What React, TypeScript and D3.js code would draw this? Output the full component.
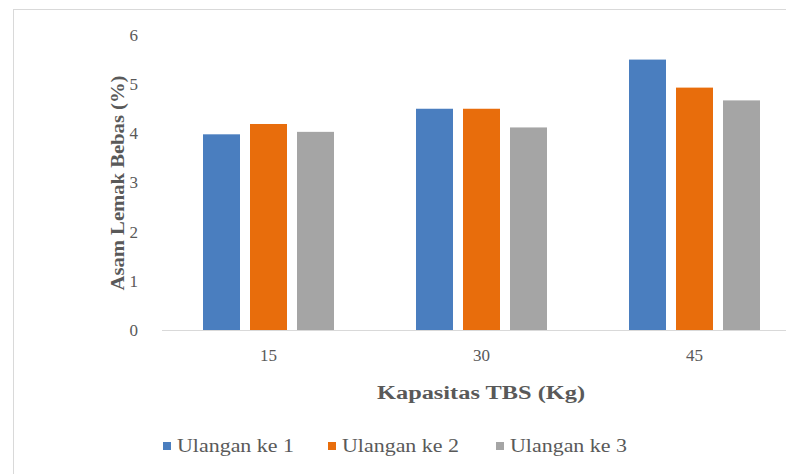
import React from 'react'
import * as d3 from 'd3'

const categories = ['15', '30', '45']
const seriesNames = ['Ulangan ke 1', 'Ulangan ke 2', 'Ulangan ke 3']
const ulangan1 = [3.98, 4.5, 5.5]
const ulangan2 = [4.19, 4.5, 4.93]
const ulangan3 = [4.03, 4.12, 4.67]
const yTicks = [0, 1, 2, 3, 4, 5, 6]
const colors = ['#4a7ebf', '#e86d0c', '#a5a5a5']

function App() {
  const width = 786
  const height = 474
  // plot area runs a bit past the right edge, like the cropped original
  const left = 162
  const right = 801
  const top = 35
  const bottom = 330

  const series = [ulangan1, ulangan2, ulangan3]

  const x0 = d3.scaleBand().domain(categories).range([left, right]).padding(0)
  const groupWidth = 131
  const offset = (x0.bandwidth() - groupWidth) / 2
  const x1 = d3
    .scaleBand()
    .domain(seriesNames)
    .range([offset, offset + groupWidth])
    .paddingInner(0.2128)
    .paddingOuter(0)

  const y = d3.scaleLinear().domain([0, 6]).range([bottom, top])

  const font = 'Liberation Serif, DejaVu Serif'

  // legend positions (square, text start)
  const legendX = [163, 328, 496]

  return (
    <svg
      width={width}
      height={height}
      style={{ position: 'absolute', left: 0, top: 0, background: '#fff' }}
    >
      <rect x={13.5} y={9.5} width={790} height={480} fill="#fff" stroke="#d9d9d9" />

      <g fontFamily={font}>
        {/* y tick labels */}
        {yTicks.map(t => (
          <text key={t} x={138} y={y(t)} dy="0.35em" textAnchor="end" fontSize={17} fill="#595959">
            {t}
          </text>
        ))}

        {/* bars */}
        {categories.map((c, i) => (
          <g key={c} transform={`translate(${x0(c)} 0)`}>
            {seriesNames.map((s, j) => (
              <rect
                key={s}
                x={x1(s)}
                y={y(series[j][i])}
                width={x1.bandwidth()}
                height={y(0) - y(series[j][i])}
                fill={colors[j]}
              />
            ))}
          </g>
        ))}

        {/* baseline */}
        <path d={`M ${left} ${bottom + 0.5} H ${right}`} stroke="#d9d9d9" strokeWidth={1} />

        {/* x tick labels */}
        {categories.map(c => (
          <text
            key={c}
            x={(x0(c) ?? 0) + x0.bandwidth() / 2}
            y={361}
            textAnchor="middle"
            fontSize={17}
            fill="#595959"
          >
            {c}
          </text>
        ))}

        {/* axis titles */}
        <text
          x={481}
          y={399}
          textAnchor="middle"
          fontSize={18}
          fontWeight="bold"
          fill="#595959"
          textLength={208}
          lengthAdjust="spacingAndGlyphs"
        >
          Kapasitas TBS (Kg)
        </text>
        <text
          transform={`translate(124 183) rotate(-90)`}
          textAnchor="middle"
          fontSize={18}
          fontWeight="bold"
          fill="#595959"
          textLength={215}
          lengthAdjust="spacingAndGlyphs"
        >
          Asam Lemak Bebas (%)
        </text>

        {/* legend */}
        {seriesNames.map((s, j) => (
          <g key={s} transform={`translate(${legendX[j]} 446)`}>
            <rect x={0} y={-4} width={8} height={8} fill={colors[j]} />
            <text
              x={14}
              y={0}
              dy="0.35em"
              fontSize={18}
              fill="#595959"
              textLength={117}
              lengthAdjust="spacingAndGlyphs"
            >
              {s}
            </text>
          </g>
        ))}
      </g>
    </svg>
  )
}

export default App
